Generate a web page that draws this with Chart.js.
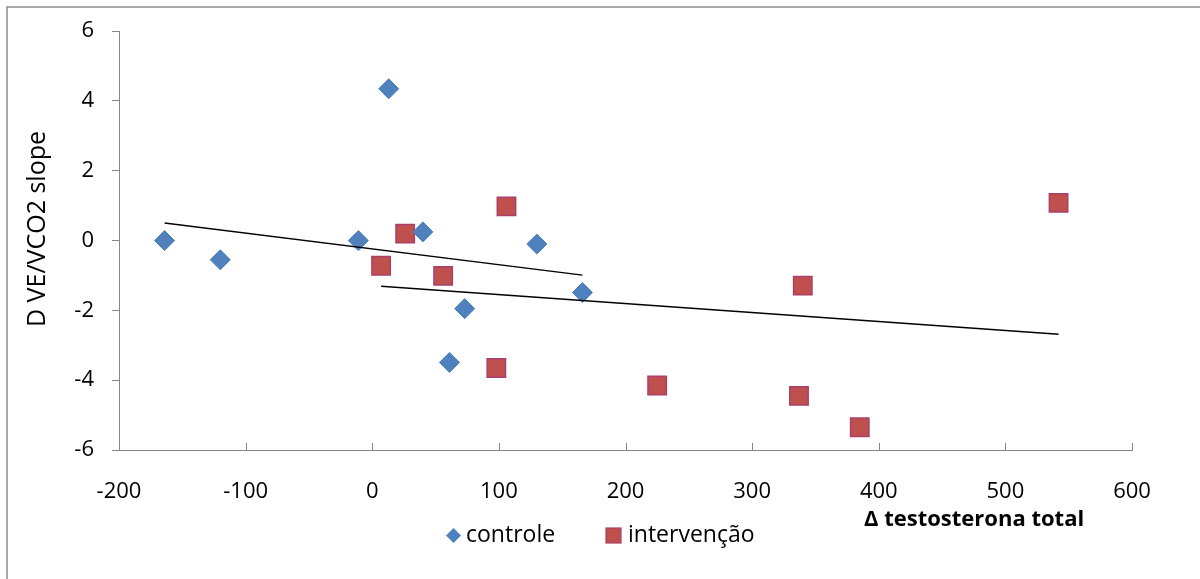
<!DOCTYPE html>
<html>
<head>
<meta charset="utf-8">
<script src="https://cdn.jsdelivr.net/npm/chart.js@4.4.0/dist/chart.umd.min.js"></script>
<style>
  html, body { margin: 0; padding: 0; background: #fff; }
</style>
</head>
<body>
<canvas id="slopeChart" width="1200" height="579"></canvas>
<script>
// Δ testosterona vs Δ VE/VCO2 slope
const controleX = [-164, -120, -11, 13, 40, 61, 73, 130, 166];
const controleY = [0.0, -0.55, 0.0, 4.35, 0.25, -3.49, -1.95, -0.10, -1.49];
const intervX = [7, 26, 56, 98, 106, 225, 337, 340, 385, 542];
const intervY = [-0.72, 0.20, -1.01, -3.65, 0.98, -4.15, -4.45, -1.29, -5.35, 1.08];
const xTicks = [-200, -100, 0, 100, 200, 300, 400, 500, 600];
const yTicks = [-6, -4, -2, 0, 2, 4, 6];

const FONT = "'Open Sans', sans-serif";
const AXIS_GRAY = '#868686';

function toPoints(xs, ys) {
  return xs.map((x, i) => ({x: x, y: ys[i]}));
}

// least squares line across the range of the series
function trend(xs, ys) {
  const n = xs.length;
  const mx = xs.reduce((a, b) => a + b, 0) / n;
  const my = ys.reduce((a, b) => a + b, 0) / n;
  let sxy = 0, sxx = 0;
  xs.forEach((x, i) => {
    sxy += (x - mx) * (ys[i] - my);
    sxx += (x - mx) * (x - mx);
  });
  const b = sxy / sxx;
  const a = my - b * mx;
  const lo = Math.min(...xs), hi = Math.max(...xs);
  return [{x: lo, y: a + b * lo}, {x: hi, y: a + b * hi}];
}

const extras = {
  id: 'extras',
  beforeDraw(chart) {
    const ctx = chart.ctx;
    ctx.save();
    ctx.strokeStyle = '#8c8c8c';
    ctx.lineWidth = 1.5;
    ctx.strokeRect(7, 7, 1400, 1400);
    ctx.restore();
  },
  afterDraw(chart) {
    const ctx = chart.ctx;
    const xs = chart.scales.x;
    const bottom = chart.chartArea.bottom;
    ctx.save();

    // x tick marks point up into the plot
    ctx.strokeStyle = AXIS_GRAY;
    ctx.lineWidth = 1;
    xTicks.forEach(v => {
      const px = Math.round(xs.getPixelForValue(v)) + 0.5;
      ctx.beginPath();
      ctx.moveTo(px, bottom);
      ctx.lineTo(px, bottom - 7);
      ctx.stroke();
    });

    // y axis title
    ctx.fillStyle = '#000';
    ctx.font = '25px ' + FONT;
    ctx.textAlign = 'center';
    ctx.textBaseline = 'middle';
    ctx.translate(38, 229);
    ctx.rotate(-Math.PI / 2);
    ctx.fillText('D VE/VCO2 slope', 0, 0);
    ctx.setTransform(1, 0, 0, 1, 0, 0);

    // x axis title
    ctx.font = 'bold 22px ' + FONT;
    ctx.textAlign = 'left';
    ctx.fillText('\u0394 testosterona total', 864, 520);

    // legend
    ctx.font = '23px ' + FONT;
    ctx.fillStyle = '#4F81BD';
    ctx.beginPath();
    ctx.moveTo(446, 535.5);
    ctx.lineTo(453.5, 528);
    ctx.lineTo(461, 535.5);
    ctx.lineTo(453.5, 543);
    ctx.closePath();
    ctx.fill();
    ctx.fillStyle = '#000';
    ctx.fillText('controle', 466, 535);

    ctx.fillStyle = '#C0504D';
    ctx.fillRect(606, 528, 15, 15);
    ctx.strokeStyle = '#A8406A';
    ctx.lineWidth = 1.2;
    ctx.strokeRect(606, 528, 15, 15);
    ctx.fillStyle = '#000';
    ctx.fillText('interven\u00e7\u00e3o', 628, 535);
    ctx.restore();
  }
};

new Chart(document.getElementById('slopeChart'), {
  type: 'scatter',
  data: {
    datasets: [
      {
        type: 'line',
        label: 'tendência controle',
        data: trend(controleX, controleY),
        borderColor: '#000',
        borderWidth: 1.5,
        pointRadius: 0,
        tension: 0,
        order: 0
      },
      {
        type: 'line',
        label: 'tendência intervenção',
        data: trend(intervX, intervY),
        borderColor: '#000',
        borderWidth: 1.5,
        pointRadius: 0,
        tension: 0,
        order: 0
      },
      {
        label: 'controle',
        data: toPoints(controleX, controleY),
        pointStyle: 'rectRot',
        pointRadius: 10,
        pointHoverRadius: 10,
        backgroundColor: '#4F81BD',
        borderColor: '#4A7EBB',
        borderWidth: 1,
        order: 1
      },
      {
        label: 'intervenção',
        data: toPoints(intervX, intervY),
        pointStyle: 'rect',
        pointRadius: 13,
        pointHoverRadius: 13,
        backgroundColor: '#C0504D',
        borderColor: '#A8406A',
        borderWidth: 1.5,
        order: 1
      }
    ]
  },
  options: {
    responsive: false,
    devicePixelRatio: 1,
    animation: false,
    layout: {
      padding: {top: 28, right: 68, left: 0, bottom: 0}
    },
    plugins: {
      legend: {display: false},
      tooltip: {enabled: false}
    },
    scales: {
      x: {
        type: 'linear',
        min: xTicks[0],
        max: xTicks[xTicks.length - 1],
        afterBuildTicks: s => { s.ticks = xTicks.map(v => ({value: v})); },
        afterFit: s => { s.height = 129; },
        ticks: {
          color: '#000',
          padding: 29,
          font: {family: FONT, size: 22}
        },
        grid: {display: false, drawTicks: false},
        border: {display: true, color: AXIS_GRAY, width: 1}
      },
      y: {
        type: 'linear',
        min: yTicks[0],
        max: yTicks[yTicks.length - 1],
        afterBuildTicks: s => { s.ticks = yTicks.map(v => ({value: v})); },
        afterFit: s => { s.width = 119; },
        ticks: {
          color: '#000',
          padding: 18,
          font: {family: FONT, size: 22}
        },
        grid: {
          drawOnChartArea: false,
          drawTicks: true,
          tickLength: 7,
          color: AXIS_GRAY
        },
        border: {display: true, color: AXIS_GRAY, width: 1}
      }
    }
  },
  plugins: [extras]
});
</script>
</body>
</html>
